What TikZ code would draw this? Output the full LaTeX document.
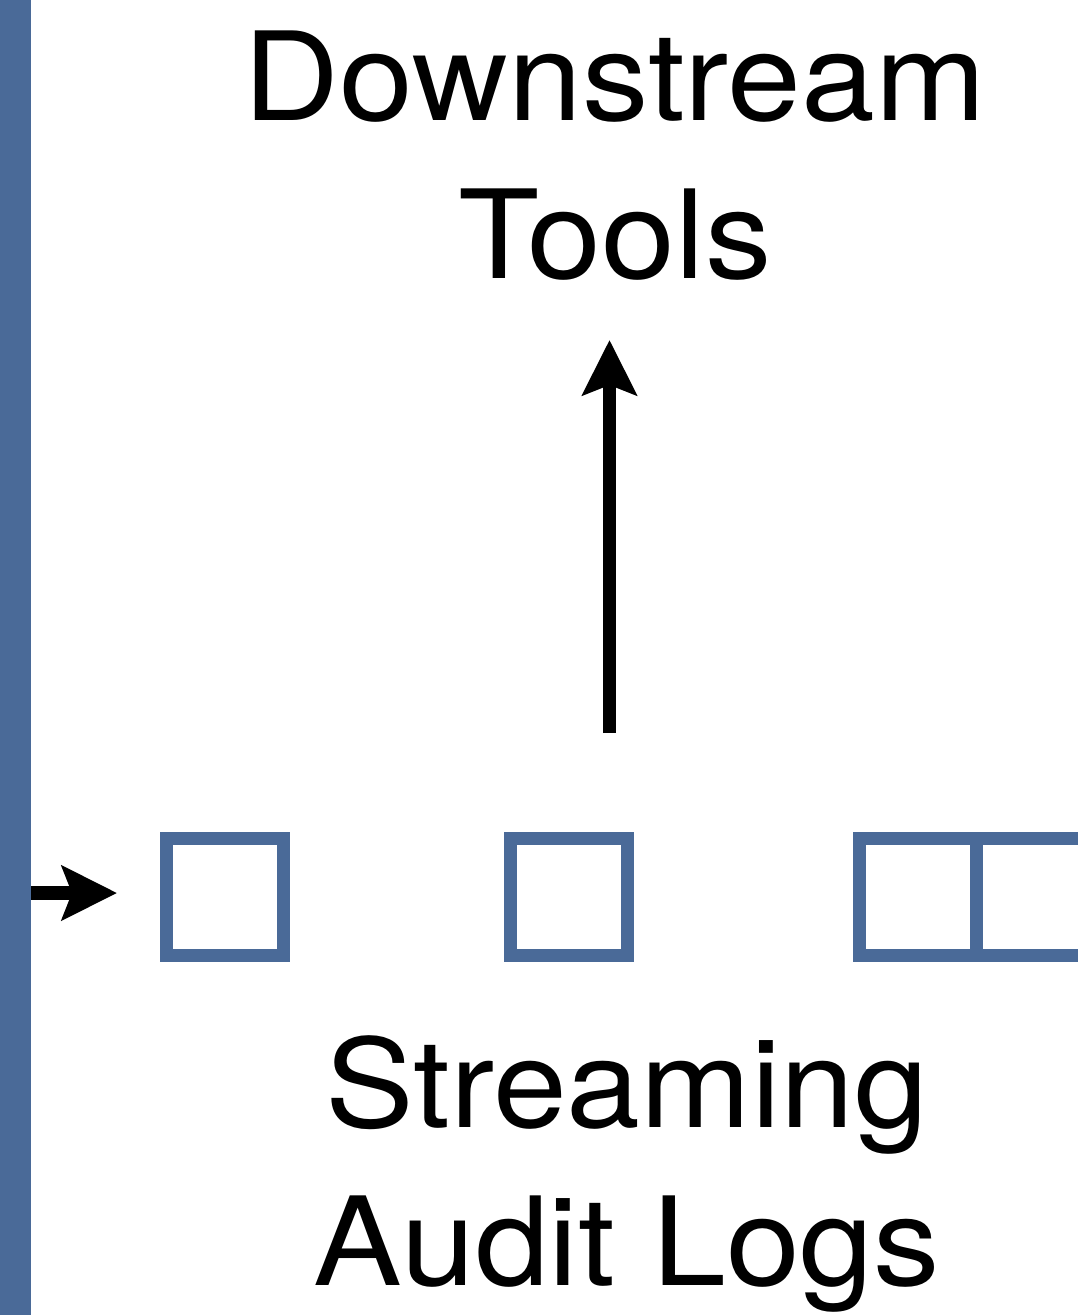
\documentclass[tikz,border=0pt]{standalone}
\usepackage{fontspec}
\setmainfont{TeX Gyre Heros}
\usetikzlibrary{arrows.meta}
\definecolor{slotblue}{RGB}{74,106,152}
\begin{document}
\begin{tikzpicture}[x=1pt, y=-1pt]
	\tikzstyle{slot} = [
		draw=slotblue, line width=13pt, fill=white,
		rectangle, minimum size=117pt, inner sep=0pt];
	\tikzstyle{bar} = [
		fill=slotblue, draw=none,
		rectangle, minimum width=31pt, minimum height=1315pt,
		inner sep=0pt, outer sep=0pt];
	\tikzstyle{label} = [
		align=center, inner sep=0pt, anchor=base, xscale=1.08,
		font={\fontsize{123}{158}\selectfont}];
	\tikzstyle{feed} = [
		line width=14pt, -{Stealth[length=55pt, width=54pt, inset=10pt]}];

	\useasboundingbox (0,0) rectangle (1077,1315);

	\node[bar] (stream) at (15.5,657.5) {};
	\node[slot] (s4) at (1032.5,896.5) {};
	\node[slot] (s3) at (917.5,896.5) {};
	\node[slot] (s2) at (568.5,896.5) {};
	\node[slot] (s1) at (225,896.5) {};

	\node[label] (tools) at (615,278) {Downstream\\Tools};
	\node[label] (logs) at (627,1285) {Streaming\\Audit Logs};

	\coordinate (upfoot) at (609.5,733);

	\draw[feed, shorten >=43pt]
		(stream.east |- 0,893) to (s1.west |- 0,893);
	\draw[feed, line width=13pt]
		(upfoot) to (609.5,340);
\end{tikzpicture}
\end{document}
